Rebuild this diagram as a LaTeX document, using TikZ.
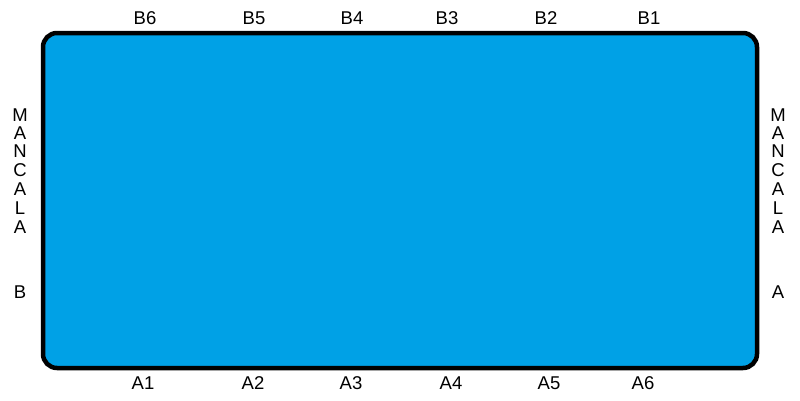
\documentclass[tikz,border=0pt]{standalone}
\usepackage{fontspec}
\setmainfont{Liberation Sans}
\usetikzlibrary{positioning}
\definecolor{boardblue}{HTML}{00A1E6}

\begin{document}
\begin{tikzpicture}[
  x=1pt, y=-1pt,
  lbl/.style={inner sep=0pt, font=\fontsize{18.5}{22}\selectfont},
  board/.style={draw=black, line width=4.5pt, fill=boardblue, rounded corners=14pt},
]
\useasboundingbox (0,0) rectangle (800,400);
\draw[board] (43,33) rectangle (757,368);
\coordinate (boardc) at (400,200);

% top row, store B side
\foreach \name/\x in {B6/145,B5/254,B4/352,B3/447,B2/546,B1/649}
  \node[lbl] (\name) at (\x,18) {\name};
% bottom row
\foreach \name/\x in {A1/143,A2/253,A3/351,A4/451,A5/549,A6/643}
  \node[lbl] (\name) at (\x,383) {\name};

% mancala stores, spelled downward
\foreach \ch/\y [count=\i] in {M/115,A/133,N/151,C/170,A/189,L/208,A/227,B/292}
  \node[lbl] (mb\i) at (20,\y) {\ch};
\foreach \ch/\y [count=\i] in {M/115,A/133,N/151,C/170,A/189,L/208,A/227,A/292}
  \node[lbl] (ma\i) at (778,\y) {\ch};
\end{tikzpicture}
\end{document}
